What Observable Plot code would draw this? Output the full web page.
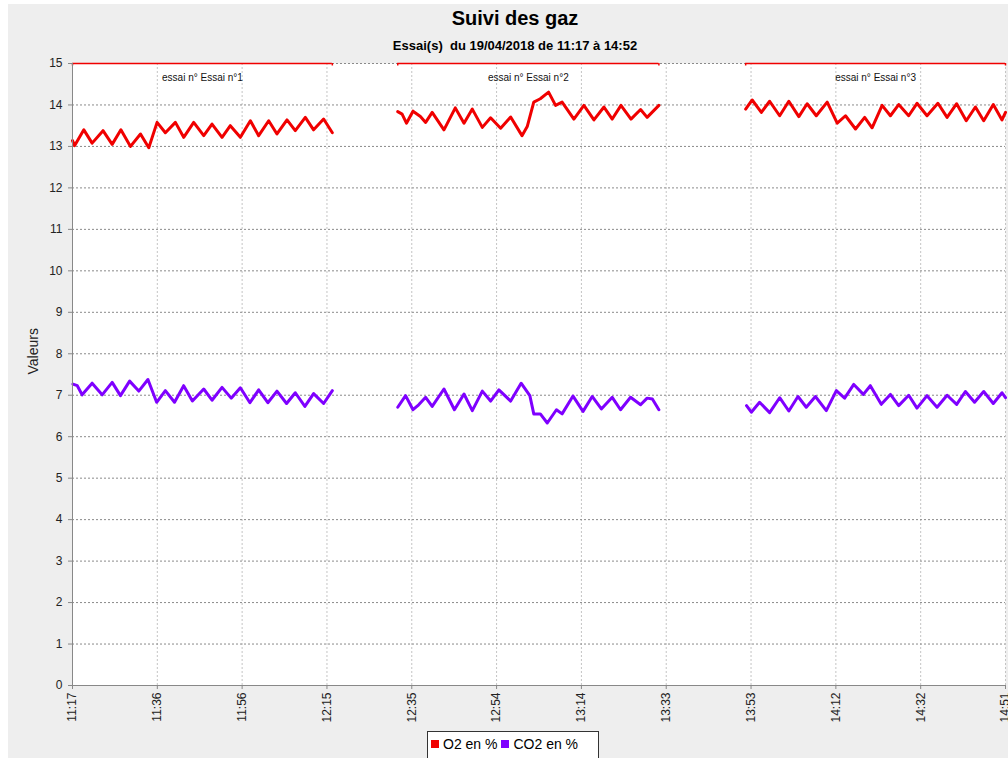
<!DOCTYPE html>
<html><head><meta charset="utf-8">
<script src="https://cdn.jsdelivr.net/npm/d3@7"></script>
<script src="https://cdn.jsdelivr.net/npm/@observablehq/plot@0.6"></script>
<style>
html,body{margin:0;padding:0;background:#fff;overflow:hidden;width:1008px;height:758px;font-family:"Liberation Sans",Arial,sans-serif;}
#panel{position:absolute;left:8px;top:4px;width:1000px;height:754px;background:#eeeeee;}
#title{position:absolute;left:0;width:1030px;top:6px;text-align:center;font-size:20px;font-weight:bold;line-height:24px;color:#000;}
#subtitle{position:absolute;left:0;width:1030px;top:38px;text-align:center;font-size:13px;font-weight:bold;line-height:16px;color:#000;}
#chart{position:absolute;left:0;top:55px;}
#legend{position:absolute;left:427px;top:731px;width:172px;height:30px;border:1px solid #333;background:#fff;font-size:14px;color:#000;box-sizing:border-box;padding-top:4px;padding-left:3px;white-space:nowrap;}
#legend span.sw{display:inline-block;width:8px;height:8px;margin-right:4px;vertical-align:1px;}
#legend span.it{margin-right:4px;}
</style>
</head><body>
<div id="panel"></div>
<div id="title">Suivi des gaz</div>
<div id="subtitle">Essai(s)&nbsp; du 19/04/2018 de 11:17 à 14:52</div>
<div id="chart"></div>
<div id="legend"></div>
<script>
// time in minutes after 11:17
const tickLabels = ["11:17","11:36","11:56","12:15","12:35","12:54","13:14","13:33","13:53","14:12","14:32","14:51"];
const xDomainEnd = 214;
const yTicks = [0,1,2,3,4,5,6,7,8,9,10,11,12,13,14,15];

const seriesNames = ["O2 en %", "CO2 en %"];
const seriesColors = ["#f00000", "#7f00ff"];

const essaiNames = ["essai n° Essai n°1", "essai n° Essai n°2", "essai n° Essai n°3"];
const essaiStart = [0, 74.6, 154.4];
const essaiEnd = [59.6, 134.5, 214];

// Essai 1
const t1o2 = [0, 0.5, 2.6, 4.5, 7.0, 9.1, 11.1, 13.3, 15.6, 17.5, 19.4, 21.3, 23.6, 25.5, 27.8, 30.1, 32.0, 34.3, 36.2, 38.5, 40.8, 42.7, 45.0, 46.9, 49.2, 51.1, 53.4, 55.3, 57.6, 59.6];
const v1o2 = [13.14, 13.02, 13.4, 13.08, 13.38, 13.05, 13.4, 13.0, 13.3, 12.97, 13.58, 13.33, 13.58, 13.22, 13.58, 13.26, 13.54, 13.22, 13.5, 13.22, 13.62, 13.26, 13.62, 13.3, 13.64, 13.38, 13.7, 13.4, 13.66, 13.33];
const t1co2 = [0.1, 1.1, 2.2, 4.5, 6.8, 9.1, 11.0, 13.1, 15.2, 17.3, 19.3, 21.3, 23.4, 25.5, 27.5, 30.1, 32.0, 34.3, 36.4, 38.5, 40.7, 42.7, 44.8, 46.9, 49.1, 51.1, 53.3, 55.3, 57.6, 59.6];
const v1co2 = [7.27, 7.23, 7.01, 7.29, 7.01, 7.31, 6.99, 7.34, 7.1, 7.38, 6.83, 7.11, 6.83, 7.23, 6.86, 7.15, 6.88, 7.19, 6.93, 7.18, 6.82, 7.13, 6.82, 7.1, 6.8, 7.06, 6.73, 7.04, 6.8, 7.11];
// Essai 2
const t2o2 = [74.6, 75.6, 76.6, 78.1, 79.8, 81.0, 82.5, 85.2, 87.8, 89.8, 91.7, 94.0, 95.9, 98.2, 100.5, 103.1, 104.3, 105.8, 107.3, 109.2, 110.8, 112.3, 115.0, 117.3, 119.6, 121.9, 123.8, 125.8, 128.1, 130.3, 131.8, 134.5];
const v2o2 = [13.84, 13.78, 13.56, 13.85, 13.72, 13.58, 13.82, 13.4, 13.93, 13.56, 13.9, 13.46, 13.69, 13.44, 13.71, 13.26, 13.48, 14.07, 14.15, 14.31, 13.99, 14.07, 13.66, 13.99, 13.64, 13.95, 13.66, 13.99, 13.66, 13.89, 13.7, 13.99];
const t2co2 = [74.6, 76.4, 78.1, 79.4, 81.0, 82.5, 85.2, 87.6, 89.8, 91.7, 94.0, 95.9, 97.8, 100.5, 102.9, 104.9, 105.8, 107.3, 108.9, 111.0, 112.3, 114.8, 117.1, 119.2, 121.3, 123.8, 125.7, 128.0, 130.3, 131.8, 133.0, 134.5];
const v2co2 = [6.71, 6.99, 6.65, 6.77, 6.95, 6.73, 7.15, 6.65, 7.03, 6.63, 7.1, 6.86, 7.13, 6.86, 7.29, 6.99, 6.55, 6.55, 6.33, 6.65, 6.55, 6.98, 6.61, 6.97, 6.67, 6.95, 6.65, 6.95, 6.77, 6.93, 6.91, 6.65];
// Essai 3
const t3o2 = [154.4, 155.9, 158.0, 159.9, 162.2, 164.3, 166.6, 168.5, 170.6, 173.1, 175.4, 177.3, 179.6, 181.7, 183.4, 185.7, 187.6, 189.5, 191.8, 193.7, 196.0, 198.5, 200.6, 202.8, 205.0, 207.1, 209.0, 211.2, 213.2, 214];
const v3o2 = [13.9, 14.12, 13.82, 14.09, 13.74, 14.09, 13.72, 14.03, 13.74, 14.07, 13.56, 13.74, 13.42, 13.7, 13.45, 13.99, 13.74, 14.01, 13.74, 14.04, 13.74, 14.04, 13.7, 14.03, 13.62, 13.95, 13.62, 14.01, 13.64, 13.82];
const t3co2 = [154.6, 155.7, 157.6, 159.9, 162.2, 164.3, 166.4, 168.3, 170.4, 172.9, 175.2, 177.1, 179.2, 181.4, 183.0, 185.5, 187.6, 189.5, 191.8, 193.7, 196.0, 198.3, 200.6, 202.8, 204.8, 206.9, 209.0, 211.2, 213.2, 214];
const v3co2 = [6.75, 6.59, 6.83, 6.58, 6.94, 6.62, 6.97, 6.71, 6.97, 6.63, 7.11, 6.93, 7.26, 7.02, 7.23, 6.78, 7.02, 6.75, 7.0, 6.69, 6.99, 6.71, 7.0, 6.78, 7.09, 6.83, 7.09, 6.8, 7.06, 6.94];

// build table
const parts = [
  [seriesNames[0], 1, t1o2, v1o2], [seriesNames[1], 1, t1co2, v1co2],
  [seriesNames[0], 2, t2o2, v2o2], [seriesNames[1], 2, t2co2, v2co2],
  [seriesNames[0], 3, t3o2, v3o2], [seriesNames[1], 3, t3co2, v3co2]
];
const rows = [];
for (const [s, e, ts, vs] of parts) ts.forEach((t, i) => rows.push({series: s, key: s + e, t, v: vs[i]}));

const segments = essaiNames.map((name, i) => ({name, start: essaiStart[i], end: essaiEnd[i]}));
const segEnds = segments.flatMap(d => [d.start, d.end]);

const tickVals = tickLabels.map((_, i) => i * xDomainEnd / (tickLabels.length - 1));
const labelMap = new Map(tickVals.map((v, i) => [v, tickLabels[i]]));

const chart = Plot.plot({
  width: 1008, height: 670,
  marginLeft: 72, marginRight: 3, marginTop: 8, marginBottom: 40,
  x: {domain: [0, xDomainEnd]},
  y: {domain: [0, 15]},
  color: {domain: seriesNames, range: seriesColors},
  style: {fontFamily: "'Liberation Sans', Arial, sans-serif", fontSize: "12px", background: "transparent", color: "#333"},
  marks: [
    Plot.frame({fill: "white", stroke: null}),
    Plot.ruleX(tickVals, {stroke: "#c4c4c4", strokeDasharray: "2,2"}),
    Plot.ruleY(yTicks.slice(1), {stroke: "#8a8a8a", strokeDasharray: "2,2"}),
    Plot.ruleY(segments, {y: 15, x1: "start", x2: "end", stroke: seriesColors[0], strokeWidth: 1.5}),
    Plot.ruleX(segEnds, {x: d => d, y1: 15, y2: 14.94, stroke: seriesColors[0], strokeWidth: 1.5}),
    Plot.text(segments, {x: d => (d.start + d.end) / 2, y: 15, dy: 14, text: "name", fontSize: 10, fill: "#111"}),
    Plot.line(rows, {x: "t", y: "v", z: "key", stroke: "series", strokeWidth: 3, strokeLinejoin: "round", strokeLinecap: "round"}),
    Plot.ruleX([0], {stroke: "#888"}),
    Plot.ruleY([0], {stroke: "#888"}),
    Plot.axisY({ticks: yTicks, tickSize: 4, tickPadding: 6, label: null, stroke: "#888", fill: "#222", fontSize: 12}),
    Plot.axisX({ticks: tickVals, tickFormat: d => labelMap.get(d), tickRotate: -90, tickSize: 4, tickPadding: 3, label: null, stroke: "#888", fill: "#222", fontSize: 12}),
    Plot.text(["Valeurs"], {frameAnchor: "left", dx: -39, rotate: -90, fontSize: 14, fill: "#222"})
  ]
});
document.getElementById("chart").appendChild(chart);

const legend = document.getElementById("legend");
seriesNames.forEach((n, i) => {
  const it = document.createElement("span");
  it.className = "it";
  it.innerHTML = `<span class="sw" style="background:${seriesColors[i]}"></span>${n}`;
  legend.appendChild(it);
});
</script>
</body></html>
